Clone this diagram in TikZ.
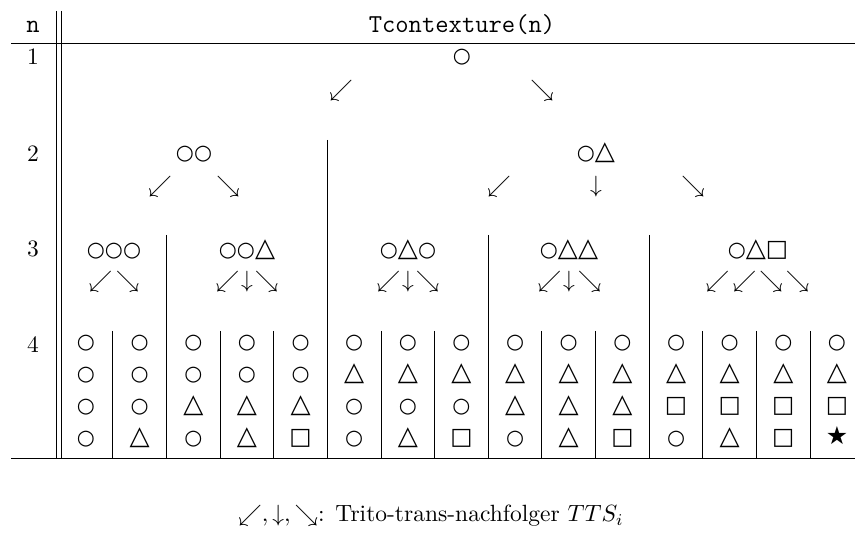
\documentclass[tikz,border=0pt]{standalone}
\usepackage{fontspec}
\newfontfamily\symfont{DejaVu Sans}
% shape symbols used in the table cells
\newcommand\symC{{\symfont\fontsize{8.8}{10}\selectfont ○}}
\newcommand\symT{{\symfont\fontsize{11.1}{10}\selectfont △}}
\newcommand\symS{{\symfont\fontsize{10}{10}\selectfont □}}
\newcommand\symX{{\symfont\fontsize{10.6}{10}\selectfont ★}}
\newcommand\ttbig{\ttfamily\fontsize{11}{13}\selectfont}
\begin{document}
\begin{tikzpicture}[x=0.4255pt,y=-0.4255pt,
  rule/.style={line width=0.4pt},
  sym/.style={inner sep=0pt,anchor=base},
  arr/.style={inner sep=0pt},
  lbl/.style={inner sep=0pt,anchor=base}]
\useasboundingbox (0,0) rectangle (855,534);

% horizontal rules
\draw[rule] (11,43) -- (855,43);
\draw[rule] (11,458) -- (855,458);
% double vertical rule after the n column
\draw[rule] (56,11) -- (56,458);
\draw[rule] (61,11) -- (61,458);
% separator between the two level-2 branches
\draw[rule] (327.3,140) -- (327.3,458);
% separators between level-3 branches
\foreach \k in {1,7,10}{
  \draw[rule] ({112.8+53.64*\k},235) -- ({112.8+53.64*\k},458);
}
% separators between level-4 columns
\foreach \k in {0,2,3,5,6,8,9,11,12,13}{
  \draw[rule] ({112.8+53.64*\k},331) -- ({112.8+53.64*\k},458);
}

% header
\node[lbl] (hn) at (33,33) {\ttbig n};
\node[lbl] (ht) at (462,33) {\ttbig Tcontexture(n)};

% row labels
\node[lbl] (r1) at (33,65) {1};
\node[lbl] (r2) at (33,162) {2};
\node[lbl] (r3) at (33,257) {3};
\node[lbl] (r4) at (33,353) {4};

% level 1
\node[sym] (t1) at (462,63) {\symC};
\node[arr] (a1l) at (341,91) {$\swarrow$};
\node[arr] (a1r) at (542,91) {$\searrow$};

% level 2
\node[sym] (t2a) at (194,160) {\symC\symC};
\node[sym] (t2b) at (596,160) {\symC\symT};
\node[arr] (a2al) at (160,187) {$\swarrow$};
\node[arr] (a2ar) at (228,187) {$\searrow$};
\node[arr] (a2bl) at (499,187) {$\swarrow$};
\node[arr] (a2bm) at (596,187) {$\downarrow$};
\node[arr] (a2br) at (693,187) {$\searrow$};

% level 3
\node[sym] (t3a) at (114,257) {\symC\symC\symC};
\node[sym] (t3b) at (247,257) {\symC\symC\symT};
\node[sym] (t3c) at (408,257) {\symC\symT\symC};
\node[sym] (t3d) at (569,257) {\symC\symT\symT};
\node[sym] (t3e) at (758,257) {\symC\symT\symS};
\node[arr] (a3al) at (100.5,282) {$\swarrow$};
\node[arr] (a3ar) at (127.5,282) {$\searrow$};
\node[arr] (a3bl) at (227.5,282) {$\swarrow$};
\node[arr] (a3bm) at (247,282) {$\downarrow$};
\node[arr] (a3br) at (266.5,282) {$\searrow$};
\node[arr] (a3cl) at (388.5,282) {$\swarrow$};
\node[arr] (a3cm) at (408,282) {$\downarrow$};
\node[arr] (a3cr) at (427.5,282) {$\searrow$};
\node[arr] (a3dl) at (549.5,282) {$\swarrow$};
\node[arr] (a3dm) at (569,282) {$\downarrow$};
\node[arr] (a3dr) at (589.5,282) {$\searrow$};
\node[arr] (a3el) at (717.5,282) {$\swarrow$};
\node[arr] (a3em) at (744.5,282) {$\swarrow$};
\node[arr] (a3en) at (771,282) {$\searrow$};
\node[arr] (a3er) at (797.5,282) {$\searrow$};

% level 4: one column of four symbols per word
\foreach \a/\b/\c/\d [count=\k from 0] in
  {C/C/C/C,C/C/C/T,C/C/T/C,C/C/T/T,C/C/T/S,
   C/T/C/C,C/T/C/T,C/T/C/S,C/T/T/C,C/T/T/T,
   C/T/T/S,C/T/S/C,C/T/S/T,C/T/S/S,C/T/S/X}{
  \pgfmathsetmacro\xx{86+53.64*\k}
  \node[sym] (w\k-1) at (\xx,349) {\csname sym\a\endcsname};
  \node[sym] (w\k-2) at (\xx,381) {\csname sym\b\endcsname};
  \node[sym] (w\k-3) at (\xx,413) {\csname sym\c\endcsname};
  \node[sym] (w\k-4) at (\xx,444) {\csname sym\d\endcsname};
}

% legend
\node[lbl,anchor=base west] (legkey) at (238,522) {$\swarrow,\downarrow,\searrow$:};
\node[lbl,anchor=base west] (legtxt) at (335,522) {Trito-trans-nachfolger $TTS_i$};
\end{tikzpicture}
\end{document}
